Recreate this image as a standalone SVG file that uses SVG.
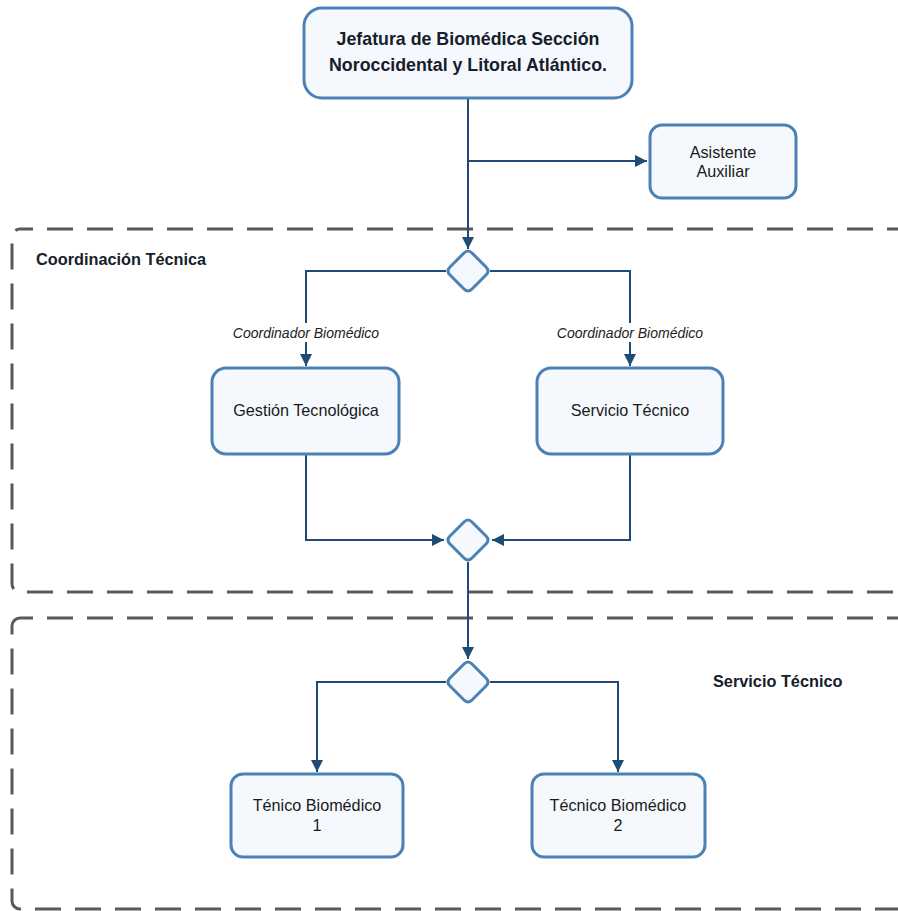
<svg xmlns="http://www.w3.org/2000/svg" width="898" height="911" viewBox="0 0 898 911">
<defs>
<style>
.cont{fill:none;stroke:#595959;stroke-width:3;stroke-dasharray:26 14;stroke-dashoffset:13}
.node{fill:#f5f9fe;stroke:#4a82b6;stroke-width:3}
.dia{fill:#f5f9fe;stroke:#4a82b6;stroke-width:3;stroke-linejoin:round}
.edge{fill:none;stroke:#1f4b74;stroke-width:2}
.t{font-family:"Liberation Sans",Arial,sans-serif;fill:#1a1a1a;text-anchor:middle;font-size:16.2px}
.tb{font-family:"Liberation Sans",Arial,sans-serif;font-weight:bold;fill:#15202b}
.lbl{font-family:"Liberation Sans",Arial,sans-serif;font-style:italic;font-size:14px;fill:#222;text-anchor:middle}
</style>
<marker id="ah2" viewBox="0 0 10 10" refX="10" refY="5" markerWidth="12" markerHeight="12" orient="auto" markerUnits="userSpaceOnUse">
<path d="M0,0 L10,5 L0,10 z" fill="#1f4b74"/>
</marker>
</defs>
<rect width="898" height="911" fill="#ffffff"/>
<g id="containers">
<rect class="cont" x="12" y="229" width="920" height="363" rx="8"/>
<rect class="cont" x="12" y="618" width="920" height="291" rx="8"/>
<text class="tb" x="36" y="265" font-size="16.3">Coordinación Técnica</text>
<text class="tb" x="713" y="687" font-size="16.3">Servicio Técnico</text>
</g>
<g id="connectors">
<path class="edge" d="M468,98 V249" marker-end="url(#ah2)"/>
<path class="edge" d="M468,161 H647" marker-end="url(#ah2)"/>
<path class="edge" d="M446,271 H306 V366" marker-end="url(#ah2)"/>
<path class="edge" d="M490,271 H630 V366" marker-end="url(#ah2)"/>
<path class="edge" d="M306,454 V540 H444" marker-end="url(#ah2)"/>
<path class="edge" d="M630,454 V540 H492" marker-end="url(#ah2)"/>
<path class="edge" d="M468,562 V659" marker-end="url(#ah2)"/>
<path class="edge" d="M446,682 H317 V772" marker-end="url(#ah2)"/>
<path class="edge" d="M490,682 H618 V772" marker-end="url(#ah2)"/>
<rect x="226" y="323" width="160" height="19" fill="#ffffff"/>
<rect x="550" y="323" width="160" height="19" fill="#ffffff"/>
<text class="lbl" x="306" y="338">Coordinador Biomédico</text>
<text class="lbl" x="630" y="338">Coordinador Biomédico</text>
</g>
<g id="jefatura">
<rect class="node" x="304" y="8" width="328" height="90" rx="18"/>
<text class="tb" x="468" y="45" font-size="17.8" text-anchor="middle">Jefatura de Biomédica Sección</text>
<text class="tb" x="468" y="71" font-size="17.8" text-anchor="middle">Noroccidental y Litoral Atlántico.</text>
</g>
<g id="asistente">
<rect class="node" x="650" y="125" width="146" height="73" rx="12"/>
<text class="t" x="723" y="158">Asistente</text>
<text class="t" x="723" y="177">Auxiliar</text>
</g>
<g id="dec1"><path class="dia" d="M464,253 Q468,249 472,253 L486,267 Q490,271 486,275 L472,289 Q468,293 464,289 L450,275 Q446,271 450,267 Z"/></g>
<g id="gestion">
<rect class="node" x="212" y="368" width="187" height="86" rx="14"/>
<text class="t" x="306" y="416">Gestión Tecnológica</text>
</g>
<g id="servicio">
<rect class="node" x="537" y="368" width="186" height="86" rx="14"/>
<text class="t" x="630" y="416">Servicio Técnico</text>
</g>
<g id="dec2"><path class="dia" d="M464,522 Q468,518 472,522 L486,536 Q490,540 486,544 L472,558 Q468,562 464,558 L450,544 Q446,540 450,536 Z"/></g>
<g id="dec3"><path class="dia" d="M464,664 Q468,660 472,664 L486,678 Q490,682 486,686 L472,700 Q468,704 464,700 L450,686 Q446,682 450,678 Z"/></g>
<g id="tec1">
<rect class="node" x="231" y="774" width="172" height="83" rx="12"/>
<text class="t" x="317" y="811">Ténico Biomédico</text>
<text class="t" x="317" y="831">1</text>
</g>
<g id="tec2">
<rect class="node" x="532" y="774" width="173" height="83" rx="12"/>
<text class="t" x="618" y="811">Técnico Biomédico</text>
<text class="t" x="618" y="831">2</text>
</g>
</svg>
